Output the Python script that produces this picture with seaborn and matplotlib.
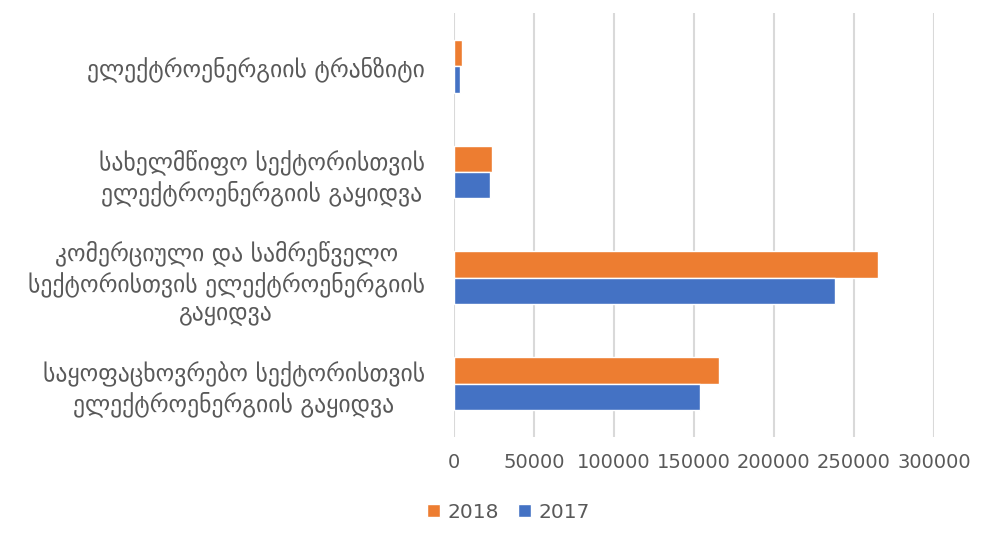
import matplotlib
matplotlib.use("Agg")
import matplotlib.pyplot as plt
import seaborn as sns
import pandas as pd
from matplotlib.patches import Patch

categories = [
    "ელექტროენერგიის ტრანზიტი",
    "სახელმწიფო სექტორისთვის\nელექტროენერგიის გაყიდვა",
    "კომერციული და სამრეწველო\nსექტორისთვის ელექტროენერგიის\nგაყიდვა",
    "საყოფაცხოვრებო სექტორისთვის\nელექტროენერგიის გაყიდვა",
]
values_2018 = [5400, 24000, 265000, 165500]
values_2017 = [4000, 22500, 238500, 153800]
series = ["2018", "2017"]
colors = {"2018": "#ED7D31", "2017": "#4472C4"}
x_ticks = [0, 50000, 100000, 150000, 200000, 250000, 300000]

df = pd.DataFrame({
    "category": categories * 2,
    "value": values_2018 + values_2017,
    "year": ["2018"] * len(categories) + ["2017"] * len(categories),
})

sns.set_theme(style="white")
plt.rcParams["font.family"] = ["DejaVu Sans"]

fig = plt.figure(figsize=(9.93, 5.46), dpi=100)
ax = fig.add_axes([0.457, 0.2, 0.4835, 0.776])

sns.barplot(data=df, y="category", x="value", hue="year", hue_order=series,
            order=categories, palette=colors, width=0.5, orient="h",
            saturation=1, ax=ax, legend=False)

ax.set_xlim(0, 300000)
ax.set_xticks(x_ticks)
ax.set_xticklabels([str(t) for t in x_ticks])
ax.grid(axis="x", color="#D9D9D9", linewidth=1.5)
ax.set_axisbelow(True)
for s in ax.spines.values():
    s.set_visible(False)
ax.set_xlabel("")
ax.set_ylabel("")
ax.tick_params(axis="x", length=0, pad=12, labelsize=14, labelcolor="#595959")
ax.tick_params(axis="y", length=0, pad=21, labelsize=17, labelcolor="#595959")
for lab in ax.get_yticklabels():
    lab.set_multialignment("center")
    lab.set_linespacing(1.25)

handles = [Patch(facecolor=colors[s], label=s) for s in series]
fig.legend(handles=handles, loc="center", bbox_to_anchor=(0.512, 0.062), ncol=2,
           frameon=False, fontsize=14.5, labelcolor="#595959",
           handlelength=0.65, handleheight=0.65, handletextpad=0.4, columnspacing=0.9)

fig.savefig("out.png", dpi=100, facecolor="white")
